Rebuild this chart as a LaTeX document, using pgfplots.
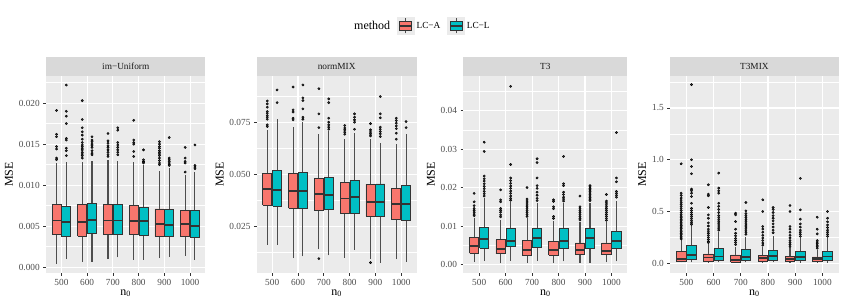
\documentclass[border=0pt]{standalone}
\usepackage{pgfplots}
\pgfplotsset{compat=1.18}
\usepackage{fontspec}
\setmainfont{Liberation Serif}
\definecolor{panelgray}{HTML}{EBEBEB}
\definecolor{stripgray}{HTML}{D9D9D9}
\definecolor{lcA}{HTML}{F8766D}
\definecolor{lcL}{HTML}{00BFC4}
\definecolor{boxedge}{HTML}{333333}
\definecolor{whiskercol}{HTML}{4D4D4D}
\definecolor{labelgray}{HTML}{4D4D4D}
\definecolor{striptext}{HTML}{1A1A1A}
\pgfplotsset{
  panel/.style={
    scale only axis, height=197pt,
    axis background/.style={fill=panelgray},
    axis line style={draw=none},
    xmin=0.4, xmax=6.6, xtick={1,2,3,4,5,6},
    xticklabels={500,600,700,800,900,1000},
    xmajorgrids, ymajorgrids, yminorgrids,
    major grid style={draw=white, line width=1.1pt},
    minor grid style={draw=white, line width=0.55pt},
    tick align=outside, major tick length=2.75pt, minor tick length=0pt,
    tick pos=left,
    tick style={draw=boxedge, line width=0.6pt},
    ticklabel style={font=\fontsize{9.3}{10}\selectfont, text=labelgray},
    xlabel={n\textsubscript{0}}, ylabel={MSE},
    label style={font=\fontsize{12}{13}\selectfont},
    xlabel style={yshift=3pt},
    ylabel style={yshift=-1pt},
    scaled y ticks=false,
    clip=false,
  },
  strip/.style={
    extra description/.code={
      \fill[stripgray] (0,1) rectangle ([yshift=19pt]1,1);
      \node[font=\fontsize{9.3}{10}\selectfont, text=striptext] at ([yshift=9.5pt]0.5,1) {#1};
    }
  },
}
% position, colour, lower whisker, Q1, median, Q3, upper whisker, outliers
\newcommand{\bx}[8]{%
  \pgfmathsetmacro{\xl}{#1-0.175}\pgfmathsetmacro{\xr}{#1+0.175}%
  \addplot[draw=whiskercol, line width=1.1pt] coordinates {(#1,#3) (#1,#4)};
  \addplot[draw=whiskercol, line width=1.1pt] coordinates {(#1,#6) (#1,#7)};
  \edef\tmpbox{\noexpand\addplot[fill=#2, draw=boxedge, line width=0.85pt, line join=miter]
     coordinates {(\xl,#4) (\xr,#4) (\xr,#6) (\xl,#6) (\xl,#4)};
     \noexpand\addplot[draw=boxedge, line width=1.8pt] coordinates {(\xl,#5) (\xr,#5)};}%
  \tmpbox
  \addplot[only marks, mark=*, mark size=1.15pt, mark options={fill=boxedge, draw=none}]
     table[row sep=\\, header=false, x expr=#1, y index=0] {#8};
}
\begin{document}
\begin{tikzpicture}
\useasboundingbox (0,0) rectangle (845pt,307pt);
% ---------------- im-Uniform
\begin{axis}[panel, strip={im−Uniform}, at={(46pt,34pt)}, anchor=south west, width=159.5pt,
  ymin=-0.0007, ymax=0.0233, ytick={0,0.005,0.01,0.015,0.02},
  minor ytick={0.0025,0.0075,0.0125,0.0175,0.0225},
  yticklabel style={/pgf/number format/.cd, assume math mode=true, fixed, fixed zerofill, precision=3},
  legend style={at={(2.357,1.254)}, anchor=center, legend columns=-1, draw=none, fill=none,
    font=\fontsize{9.3}{10}\selectfont, /tikz/every even column/.append style={column sep=5pt}},
  ]
\addlegendimage{empty legend}\addlegendentry{\fontsize{12}{13}\selectfont method}
\addlegendimage{legend image code/.code={
  \fill[panelgray] (0pt,-8.5pt) rectangle (17pt,8.5pt);
  \draw[whiskercol, line width=0.9pt] (8.5pt,-7.5pt) -- (8.5pt,7.5pt);
  \filldraw[fill=lcA, draw=boxedge, line width=0.85pt] (2.5pt,-4.5pt) rectangle (14.5pt,4.5pt);
  \draw[boxedge, line width=1.5pt] (2.5pt,0pt) -- (14.5pt,0pt);}}
\addlegendentry{LC−A}
\addlegendimage{legend image code/.code={
  \fill[panelgray] (0pt,-8.5pt) rectangle (17pt,8.5pt);
  \draw[whiskercol, line width=0.9pt] (8.5pt,-7.5pt) -- (8.5pt,7.5pt);
  \filldraw[fill=lcL, draw=boxedge, line width=0.85pt] (2.5pt,-4.5pt) rectangle (14.5pt,4.5pt);
  \draw[boxedge, line width=1.5pt] (2.5pt,0pt) -- (14.5pt,0pt);}}
\addlegendentry{LC−L}
\bx{0.81}{lcA}{0.0004}{0.0040}{0.0057}{0.0076}{0.0127}{0.0191\\0.0162\\0.0159\\0.0147\\0.0144\\0.0133\\0.0131\\}
\bx{1.19}{lcL}{0.0010}{0.0037}{0.0055}{0.0074}{0.0128}{0.0222\\0.0190\\0.0184\\0.0175\\0.0157\\0.0155\\0.0145\\0.0142\\0.0136\\}
\bx{1.81}{lcA}{0.0007}{0.0038}{0.0055}{0.0076}{0.0128}{0.0203\\0.0180\\0.0170\\0.0165\\0.0161\\0.0156\\0.0152\\0.0149\\0.0147\\0.0145\\0.0143\\0.0140\\0.0138\\0.0136\\0.0133\\}
\bx{2.19}{lcL}{0.0007}{0.0041}{0.0058}{0.0078}{0.0130}{0.0159\\0.0155\\0.0153\\0.0150\\0.0148\\0.0146\\0.0142\\0.0139\\0.0137\\}
\bx{2.81}{lcA}{0.0010}{0.0040}{0.0057}{0.0077}{0.0131}{0.0163\\0.0154\\0.0151\\0.0148\\0.0146\\0.0143\\0.0140\\0.0137\\0.0135\\}
\bx{3.19}{lcL}{0.0012}{0.0040}{0.0057}{0.0077}{0.0130}{0.0170\\0.0167\\0.0152\\0.0149\\0.0146\\0.0143\\0.0140\\0.0137\\}
\bx{3.81}{lcA}{0.0009}{0.0040}{0.0056}{0.0075}{0.0128}{0.0179\\0.0155\\0.0152\\0.0150\\0.0141\\0.0135\\}
\bx{4.19}{lcL}{0.0009}{0.0039}{0.0056}{0.0073}{0.0125}{0.0143\\0.0131\\0.0129\\0.0128\\0.0127\\}
\bx{4.81}{lcA}{0.0011}{0.0038}{0.0053}{0.0071}{0.0117}{0.0153\\0.0150\\0.0147\\0.0145\\0.0142\\0.0140\\0.0138\\0.0136\\0.0133\\0.0130\\0.0127\\0.0125\\}
\bx{5.19}{lcL}{0.0013}{0.0037}{0.0051}{0.0070}{0.0121}{0.0158\\0.0133\\0.0131\\0.0129\\0.0127\\0.0125\\0.0124\\}
\bx{5.81}{lcA}{0.0014}{0.0037}{0.0053}{0.0069}{0.0112}{0.0146\\0.0133\\0.0129\\0.0127\\0.0116\\}
\bx{6.19}{lcL}{0.0009}{0.0036}{0.0050}{0.0069}{0.0116}{0.0149\\0.0124\\0.0122\\0.0120\\}
\end{axis}
% ---------------- normMIX
\begin{axis}[panel, strip={normMIX}, at={(256.7pt,34pt)}, anchor=south west, width=160pt,
  ymin=0.0027, ymax=0.0974, ytick={0.025,0.05,0.075},
  minor ytick={0.0125,0.0375,0.0625,0.0875},
  yticklabel style={/pgf/number format/.cd, assume math mode=true, fixed, fixed zerofill, precision=3},
  ]
\bx{0.81}{lcA}{0.0162}{0.0354}{0.0430}{0.0505}{0.0715}{0.0854\\0.0840\\0.0824\\0.0803\\0.0795\\0.0784\\0.0776\\0.0766\\0.0739\\0.0731\\}
\bx{1.19}{lcL}{0.0162}{0.0349}{0.0426}{0.0521}{0.0769}{0.0907\\0.0846\\}
\bx{1.81}{lcA}{0.0098}{0.0338}{0.0421}{0.0505}{0.0731}{0.0921\\0.0811\\0.0801\\0.0771\\0.0763\\}
\bx{2.19}{lcL}{0.0107}{0.0338}{0.0421}{0.0510}{0.0755}{0.0931\\0.0869\\0.0856\\0.0816\\0.0776\\0.0766\\}
\bx{2.81}{lcA}{0.0141}{0.0329}{0.0405}{0.0482}{0.0697}{0.0913\\0.0792\\0.0726\\0.0096\\}
\bx{3.19}{lcL}{0.0112}{0.0333}{0.0401}{0.0486}{0.0710}{0.0864\\0.0846\\0.0771\\0.0752\\0.0739\\0.0728\\0.0718\\}
\bx{3.81}{lcA}{0.0101}{0.0313}{0.0385}{0.0463}{0.0673}{0.0736\\0.0724\\0.0715\\0.0704\\0.0694\\}
\bx{4.19}{lcL}{0.0138}{0.0313}{0.0393}{0.0474}{0.0702}{0.0792\\0.0776\\0.0763\\0.0752\\0.0718\\}
\bx{4.81}{lcA}{0.0096}{0.0301}{0.0369}{0.0454}{0.0673}{0.0745\\0.0715\\0.0705\\0.0696\\0.0686\\0.0077\\}
\bx{5.19}{lcL}{0.0077}{0.0300}{0.0369}{0.0455}{0.0654}{0.0875\\0.0792\\0.0773\\0.0728\\0.0718\\0.0707\\0.0696\\0.0683\\}
\bx{5.81}{lcA}{0.0093}{0.0284}{0.0357}{0.0433}{0.0646}{0.0771\\0.0760\\0.0747\\0.0734\\0.0721\\0.0699\\0.0670\\}
\bx{6.19}{lcL}{0.0080}{0.0279}{0.0357}{0.0447}{0.0694}{0.0755\\0.0726\\}
\end{axis}
% ---------------- T3
\begin{axis}[panel, strip={T3}, at={(463.3pt,34pt)}, anchor=south west, width=164pt,
  ymin=-0.0022, ymax=0.049, ytick={0,0.01,0.02,0.03,0.04},
  minor ytick={0.005,0.015,0.025,0.035,0.045},
  yticklabel style={/pgf/number format/.cd, assume math mode=true, fixed, fixed zerofill, precision=2},
  ]
\bx{0.81}{lcA}{0.0006}{0.0029}{0.0048}{0.0071}{0.0122}{0.0185\\0.0163\\0.0153\\0.0146\\0.0141\\0.0136\\0.0131\\0.0127\\}
\bx{1.19}{lcL}{0.0009}{0.0042}{0.0066}{0.0096}{0.0172}{0.0318\\0.0294\\0.0230\\0.0223\\0.0217\\0.0210\\0.0203\\0.0197\\0.0190\\0.0184\\0.0178\\}
\bx{1.81}{lcA}{0.0003}{0.0028}{0.0040}{0.0064}{0.0116}{0.0194\\0.0168\\0.0163\\0.0146\\0.0141\\0.0136\\0.0129\\0.0124\\}
\bx{2.19}{lcL}{0.0010}{0.0048}{0.0062}{0.0094}{0.0163}{0.0463\\0.0260\\0.0225\\0.0218\\0.0211\\0.0204\\0.0198\\0.0191\\0.0185\\0.0178\\0.0172\\0.0167\\}
\bx{2.81}{lcA}{0.0005}{0.0024}{0.0038}{0.0062}{0.0120}{0.0200\\0.0170\\0.0165\\0.0160\\0.0155\\0.0150\\0.0145\\0.0140\\0.0135\\0.0130\\0.0125\\}
\bx{3.19}{lcL}{0.0010}{0.0044}{0.0068}{0.0093}{0.0160}{0.0275\\0.0265\\0.0225\\0.0205\\0.0198\\0.0188\\0.0180\\0.0172\\0.0166\\}
\bx{3.81}{lcA}{0.0004}{0.0024}{0.0038}{0.0061}{0.0113}{0.0168\\0.0164\\0.0150\\0.0145\\0.0125\\0.0120\\}
\bx{4.19}{lcL}{0.0008}{0.0042}{0.0062}{0.0093}{0.0160}{0.0281\\0.0210\\0.0205\\0.0188\\0.0182\\0.0175\\0.0170\\0.0165\\}
\bx{4.81}{lcA}{0.0005}{0.0025}{0.0038}{0.0056}{0.0110}{0.0178\\0.0150\\0.0145\\0.0140\\0.0135\\0.0130\\0.0125\\0.0120\\0.0116\\}
\bx{5.19}{lcL}{0.0005}{0.0042}{0.0068}{0.0094}{0.0160}{0.0205\\0.0202\\0.0198\\0.0194\\0.0190\\0.0186\\0.0182\\0.0178\\0.0174\\0.0170\\0.0166\\}
\bx{5.81}{lcA}{0.0006}{0.0025}{0.0036}{0.0056}{0.0110}{0.0182\\0.0165\\0.0160\\0.0155\\0.0150\\0.0145\\0.0140\\0.0135\\0.0130\\0.0125\\0.0120\\0.0115\\}
\bx{6.19}{lcL}{0.0008}{0.0042}{0.0062}{0.0087}{0.0165}{0.0343\\0.0225\\0.0215\\0.0190\\0.0185\\0.0180\\0.0175\\}
\end{axis}
% ---------------- T3MIX
\begin{axis}[panel, strip={T3MIX}, at={(670pt,34pt)}, anchor=south west, width=168.7pt,
  ymin=-0.094, ymax=1.809, ytick={0,0.5,1,1.5},
  minor ytick={0.25,0.75,1.25,1.75},
  yticklabel style={/pgf/number format/.cd, assume math mode=true, fixed, fixed zerofill, precision=1},
  ]
\bx{0.81}{lcA}{0.008}{0.022}{0.042}{0.113}{0.226}{0.961\\0.677\\0.655\\0.630\\0.610\\0.590\\0.570\\0.550\\0.530\\0.510\\0.490\\0.470\\0.455\\0.440\\0.425\\0.410\\0.395\\0.380\\0.365\\0.350\\0.335\\0.320\\0.305\\0.290\\0.275\\0.260\\0.245\\0.235\\}
\bx{1.19}{lcL}{0.008}{0.035}{0.080}{0.168}{0.360}{1.726\\1.000\\0.935\\0.865\\0.716\\0.700\\0.677\\0.645\\0.580\\0.530\\0.510\\0.490\\0.470\\0.450\\0.430\\0.410\\0.390\\0.375\\}
\bx{1.81}{lcA}{0.006}{0.016}{0.055}{0.090}{0.190}{0.758\\0.668\\0.652\\0.539\\0.468\\0.435\\0.390\\0.360\\0.330\\0.310\\0.290\\0.270\\0.250\\0.230\\0.210\\0.200\\}
\bx{2.19}{lcL}{0.008}{0.026}{0.065}{0.145}{0.300}{0.871\\0.726\\0.700\\0.677\\0.580\\0.550\\0.520\\0.490\\0.460\\0.440\\0.420\\0.400\\0.380\\0.360\\0.340\\0.320\\}
\bx{2.81}{lcA}{0.004}{0.012}{0.035}{0.080}{0.160}{0.484\\0.468\\0.403\\0.329\\0.290\\0.265\\0.240\\0.220\\0.200\\0.180\\}
\bx{3.19}{lcL}{0.008}{0.026}{0.058}{0.129}{0.258}{0.587\\0.506\\0.480\\0.460\\0.440\\0.420\\0.400\\0.380\\0.360\\0.340\\0.320\\0.300\\0.280\\}
\bx{3.81}{lcA}{0.004}{0.013}{0.050}{0.071}{0.155}{0.613\\0.500\\0.355\\0.330\\0.300\\0.270\\0.245\\0.220\\0.195\\0.175\\}
\bx{4.19}{lcL}{0.008}{0.026}{0.071}{0.120}{0.265}{0.539\\0.520\\0.490\\0.460\\0.435\\0.410\\0.380\\0.350\\0.320\\0.295\\}
\bx{4.81}{lcA}{0.004}{0.013}{0.040}{0.068}{0.145}{0.558\\0.500\\0.355\\0.330\\0.300\\0.270\\0.245\\0.220\\0.200\\0.180\\0.160\\}
\bx{5.19}{lcL}{0.006}{0.023}{0.062}{0.110}{0.242}{0.820\\0.516\\0.426\\0.380\\0.350\\0.320\\0.300\\0.280\\0.260\\}
\bx{5.81}{lcA}{0.004}{0.013}{0.040}{0.061}{0.129}{0.445\\0.329\\0.284\\0.220\\0.205\\0.190\\0.175\\0.160\\0.145\\}
\bx{6.19}{lcL}{0.006}{0.023}{0.065}{0.113}{0.242}{0.500\\0.435\\0.400\\0.370\\0.345\\0.320\\0.300\\0.280\\0.260\\}
\end{axis}
\end{tikzpicture}
\end{document}
